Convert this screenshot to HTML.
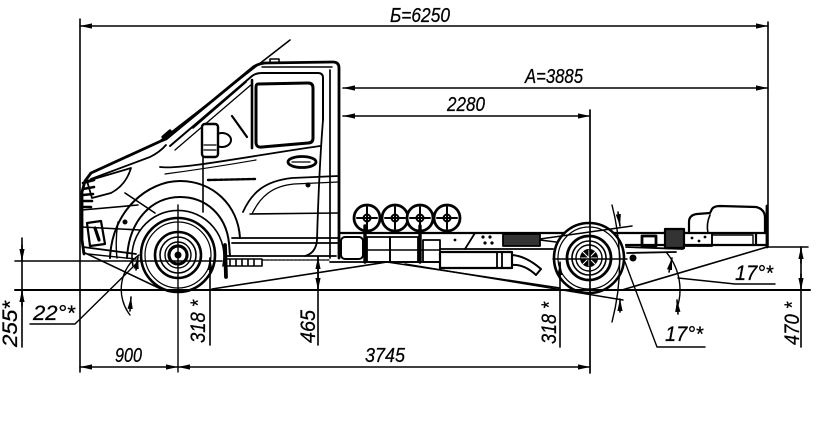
<!DOCTYPE html>
<html><head><meta charset="utf-8"><style>html,body{margin:0;padding:0;background:#fff;}svg{display:block;}</style></head>
<body>
<svg width="821" height="421" viewBox="0 0 821 421" xmlns="http://www.w3.org/2000/svg">
<defs>
<marker id="ar" viewBox="0 0 12 6" refX="12" refY="3" markerWidth="12" markerHeight="6" markerUnits="userSpaceOnUse" orient="auto-start-reverse"><path d="M0,0.4 L12,3 L0,5.6 z" fill="#000"/></marker>
</defs>
<rect width="821" height="421" fill="#fff"/>
<g stroke="#000" fill="none" stroke-linecap="round" stroke-linejoin="round">
<!-- cab -->
<path d="M84 254 L82 240 L82 192 L85 181 L91 173 L161 141 L166 139 L251 69 Q256 64 265 63 L333 62 Q339 62 339 68 L339 258" stroke-width="2.8"/>
<path d="M262 67 L332 67" stroke-width="1.4"/>
<path d="M330 70 L330 258" stroke-width="1.7"/>
<path d="M170 146 L252 76 Q256 73 262 73 L318 73 Q323 73 323 78 L323 120" stroke-width="2"/>
<path d="M175 150 L252 84" stroke-width="1.3"/>
<path d="M323 120 Q319 170 317 240 Q316 253 305 256" stroke-width="1.8"/>
<path d="M290 40 L160 141" stroke-width="1.6"/>
<path d="M258 84 L308 83 Q313 83 313 88 L313 138 Q313 143 308 143 L262 147 Q256 148 256 142 L256 88 Q256 84 258 84 Z" stroke-width="3"/>
<path d="M252 80 L252 148" stroke-width="2.6"/>
<path d="M246 82 L193 128" stroke-width="1.6"/>
<path d="M232 116 L247 137" stroke-width="2.2"/>
<ellipse cx="222" cy="140" rx="9" ry="7" stroke-width="2"/>
<rect x="202" y="124" width="16" height="33" rx="3" stroke-width="2.4" fill="#fff"/>
<path d="M204 145 L216 145 M204 150 L216 150" stroke-width="1.2"/>
<path d="M203 157 L203 212" stroke-width="1.6"/>
<path d="M160 167 C180 170 250 156 320 146" stroke-width="1.8"/>
<path d="M165 174 Q210 168 256 160" stroke-width="1.2"/>
<ellipse cx="302" cy="162" rx="14" ry="5.5" stroke-width="2.8"/>
<path d="M292 162 L310 162" stroke-width="1.3"/>
<path d="M208 180 L255 179" stroke-width="2.4" stroke-dasharray="4 1.5"/>
<path d="M243 212 C252 192 265 181 292 178 L338 176" stroke-width="1.8"/>
<path d="M252 214 C260 197 272 186 294 184 L338 182" stroke-width="1.3"/>
<path d="M250 214 L338 213" stroke-width="1.6"/>
<circle cx="308" cy="185" r="2" fill="#000"/>
<path d="M232 238 L338 238 M232 243 L338 243 M224 256 L336 256" stroke-width="1.8"/>
<path d="M262 260 L330 260" stroke-width="1.3" stroke-dasharray="3 1"/>
<!-- fender -->
<path d="M110 258 C112 210 148 181 180 181 C213 181 238 205 240 238" stroke-width="2"/>
<path d="M127 258 C129 220 152 197 180 197 C206 197 226 215 229 243 L230 256" stroke-width="2"/>
<path d="M133 266 A46 46 0 1 1 223 266" stroke-width="1.6"/>
<path d="M118 222 Q115 240 117 258" stroke-width="1.4"/>
<circle cx="125" cy="222" r="2" fill="#000"/>
<path d="M125 193 L155 213" stroke-width="1.6"/>
<!-- front -->
<path d="M91 179 L150 157 Q160 152 166 145" stroke-width="1.8"/>
<path d="M87 181 L131 168 Q126 185 111 193 L92 198 Z" stroke-width="1.8"/>
<path d="M83 183 L94 180 M83 189 L94 187 M83 195 L93 194 M83 201 L92 201 M83 207 L91 207" stroke-width="2.6"/>
<path d="M82 210 L138 205" stroke-width="1.6"/>
<path d="M82 227 L140 230" stroke-width="1.6"/>
<path d="M87 223 L101 221 L105 244 L90 246 Z" stroke-width="2.2"/>
<path d="M95 228 L99 240" stroke-width="3.2"/>
<path d="M83 247 L136 254" stroke-width="1.8"/>
<path d="M88 254 L136 259" stroke-width="1.4"/>
<path d="M163 137 L170 131" stroke-width="3.2"/>
<rect x="270" y="59" width="9" height="4" stroke-width="1.6"/>
<!-- steps / flap -->
<path d="M226 259 L262 259 L262 266 L226 266 Z M230 259 L230 266 M236 259 L236 266 M242 259 L242 266 M248 259 L248 266 M254 259 L254 266" stroke-width="1.6"/>
<path d="M225 245 L226 277" stroke-width="3.8"/>
<!-- frame -->
<path d="M339 233 L767 233" stroke-width="2.2"/>
<path d="M440 249 L553 249" stroke-width="1.8"/>
<path d="M626 245 L767 245" stroke-width="2.2"/>
<path d="M767 206 L767 247" stroke-width="2.8"/>
<!-- cylinders -->
<g stroke-width="2.8" fill="#fff">
<circle cx="367" cy="218" r="13"/><circle cx="395" cy="218" r="13"/><circle cx="420" cy="218" r="13"/><circle cx="447" cy="218" r="13"/>
</g>
<g stroke-width="2">
<circle cx="367" cy="218" r="3.5"/><circle cx="395" cy="218" r="3.5"/><circle cx="420" cy="218" r="3.5"/><circle cx="447" cy="218" r="3.5"/>
<path d="M367 207 L367 229 M357 218 L377 218 M395 207 L395 229 M385 218 L405 218 M420 207 L420 229 M410 218 L430 218 M447 207 L447 229 M437 218 L457 218"/>
</g>
<path d="M365 226 L365 262 M420 226 L420 262" stroke-width="3.4"/>
<rect x="341" y="237" width="22" height="22" rx="4" stroke-width="2"/>
<rect x="367" y="237" width="23" height="25" stroke-width="1.8"/>
<rect x="390" y="237" width="28" height="25" stroke-width="1.8"/>
<rect x="423" y="240" width="17" height="22" stroke-width="1.8"/>
<path d="M367 250 L440 250" stroke-width="1.4"/>
<path d="M330 262 L440 262" stroke-width="1.8"/>
<path d="M475 233 L465 249" stroke-width="1.8"/>
<g fill="#000" stroke="none"><circle cx="483" cy="237" r="1.6"/><circle cx="490" cy="237" r="1.6"/><circle cx="485" cy="243" r="1.6"/><circle cx="492" cy="243" r="1.6"/><circle cx="455" cy="240" r="1.4"/></g>
<rect x="503" y="234" width="37" height="12" fill="#333" stroke-width="1.8"/>
<rect x="440" y="252" width="72" height="16" stroke-width="2.2"/>
<path d="M497 252 L497 268 M502 252 L502 268" stroke-width="1.8"/>
<path d="M512 255 Q526 256 541 269 L536 275 Q524 264 512 265" stroke-width="2"/>
<path d="M540 240 L556 242" stroke-width="1.6"/>
<!-- rear parts -->
<rect x="642" y="236" width="14" height="10" stroke-width="2.8"/>
<rect x="665" y="229" width="19" height="19" fill="#333" stroke-width="2.2"/>
<rect x="684" y="233" width="28" height="13" stroke-width="1.8"/>
<g fill="#000" stroke="none"><circle cx="692" cy="238" r="1.4"/><circle cx="699" cy="241" r="1.4"/><circle cx="705" cy="237" r="1.4"/></g>
<rect x="712" y="235" width="41" height="10" stroke-width="1.4"/>
<path d="M756 233 L756 245" stroke-width="2.2"/>
<path d="M626 247 L683 249 M627 253 L676 252" stroke-width="1.8"/>
<circle cx="633" cy="258" r="3" fill="#000"/>
<path d="M689 233 L689 222 Q689 215 697 214 L710 213 L712 209 Q714 206 720 206 L756 207 Q765 209 765 218 L765 233" stroke-width="2.2"/>
<path d="M710 215 Q706 224 708 233" stroke-width="1.6"/>
<!-- wheels -->
<circle cx="178" cy="255" r="37" fill="#fff" stroke-width="2.6"/>
<circle cx="178" cy="255" r="33" stroke-width="1.2"/>
<circle cx="178" cy="255" r="23" stroke-width="2.6"/>
<circle cx="178" cy="255" r="18" stroke-width="1.6"/>
<circle cx="178" cy="255" r="13" stroke-width="1.4"/>
<circle cx="178" cy="255" r="9" stroke-width="3.2" stroke-dasharray="2.5 1.5"/>
<circle cx="178" cy="255" r="3" fill="#000"/>
<circle cx="589" cy="258" r="35" fill="#fff" stroke-width="2.6"/>
<circle cx="589" cy="258" r="31" stroke-width="1.2"/>
<circle cx="589" cy="258" r="22" stroke-width="2.8"/>
<circle cx="589" cy="258" r="17" stroke-width="1.6"/>
<circle cx="589" cy="258" r="13" stroke-width="1.4"/>
<circle cx="589" cy="258" r="8.5" fill="#000"/>
<path d="M581 258 L597 258 M589 250 L589 266 M583 252 L595 264 M595 252 L583 264" stroke="#fff" stroke-width="1"/>
<!-- center lines -->
<path d="M178 205 L178 372" stroke-width="1.4"/>
<path d="M590 110 L590 373" stroke-width="1.7"/>
<path d="M553 259 L627 259" stroke-width="1.4"/>
<!-- ground and reference lines -->
<path d="M15 290 L810 290" stroke-width="2"/>
<path d="M15 261 L222 261" stroke-width="1.6"/>
<path d="M83 252 L163 290" stroke-width="1.6"/>
<path d="M212 289 L387 262" stroke-width="1.6"/>
<path d="M387 262 L560 288" stroke-width="1.5"/>
<path d="M405 264 L623 300" stroke-width="1.5"/>
<path d="M540 239 L632 226" stroke-width="1.5"/>
<path d="M622 290 L767 247" stroke-width="1.6"/>
<path d="M767 247 L808 247" stroke-width="1.5"/>
<!-- arcs -->
<path d="M612 205 A233 233 0 0 1 612 322" stroke-width="1.4"/>
<path d="M666 252 A58 58 0 0 1 676 311" stroke-width="1.4"/>
<path d="M139 255 A42 42 0 0 0 130 315" stroke-width="1.4"/>
<!-- leaders -->
<path d="M30 324 L75 324 L138 262" stroke-width="1.4"/>
<path d="M678 278 L735 284 L775 284" stroke-width="1.4"/>
<path d="M625 262 L657 347 L705 347" stroke-width="1.4"/>
<!-- dimension lines -->
<g stroke-width="1.6">
<path d="M80 19 L80 372"/>
<path d="M768 22 L768 247"/>
<line x1="80" y1="26" x2="768" y2="26" marker-start="url(#ar)" marker-end="url(#ar)"/>
<line x1="343" y1="88" x2="768" y2="88" marker-start="url(#ar)" marker-end="url(#ar)"/>
<line x1="343" y1="116" x2="590" y2="116" marker-start="url(#ar)" marker-end="url(#ar)"/>
<line x1="80" y1="367" x2="178" y2="367" marker-start="url(#ar)" marker-end="url(#ar)"/>
<line x1="178" y1="367" x2="590" y2="367" marker-start="url(#ar)" marker-end="url(#ar)"/>
<!-- vertical dims -->
<path d="M22 238 L22 347"/>
<line x1="22" y1="245" x2="22" y2="261" marker-end="url(#ar)"/>
<line x1="22" y1="306" x2="22" y2="290" marker-end="url(#ar)"/>
<path d="M210 258 L210 345"/>
<line x1="210" y1="274" x2="210" y2="258" marker-end="url(#ar)"/>
<path d="M318 257 L318 345"/>
<line x1="318" y1="273" x2="318" y2="257" marker-end="url(#ar)"/>
<line x1="318" y1="274" x2="318" y2="290" marker-end="url(#ar)"/>
<path d="M560 262 L560 347"/>
<line x1="560" y1="279" x2="560" y2="263" marker-end="url(#ar)"/>
<path d="M801 247 L801 347"/>
<line x1="801" y1="263" x2="801" y2="247" marker-end="url(#ar)"/>
<line x1="801" y1="274" x2="801" y2="290" marker-end="url(#ar)"/>
<!-- arc arrows -->
<line x1="618" y1="212" x2="620" y2="226" marker-end="url(#ar)"/>
<line x1="620" y1="312" x2="620" y2="299" marker-end="url(#ar)"/>
<line x1="669" y1="272" x2="672" y2="258" marker-end="url(#ar)"/>
<line x1="678" y1="314" x2="677" y2="300" marker-end="url(#ar)"/>
<line x1="136" y1="270" x2="138" y2="257" marker-end="url(#ar)"/>
<line x1="130" y1="311" x2="131" y2="297" marker-end="url(#ar)"/>
</g>
</g>
<!-- text -->
<g font-family="'Liberation Sans', 'DejaVu Sans', sans-serif" font-style="italic" fill="#000" stroke="#000" stroke-width="0.25">
<text x="390" y="22" font-size="20" textLength="60" lengthAdjust="spacingAndGlyphs">Б=6250</text>
<text x="525" y="83" font-size="20" textLength="58" lengthAdjust="spacingAndGlyphs">А=3885</text>
<text x="447" y="111" font-size="20" textLength="38" lengthAdjust="spacingAndGlyphs">2280</text>
<text x="115" y="362" font-size="20" textLength="27" lengthAdjust="spacingAndGlyphs">900</text>
<text x="365" y="362" font-size="20" textLength="40" lengthAdjust="spacingAndGlyphs">3745</text>
<text x="33" y="320" font-size="21" textLength="42" lengthAdjust="spacingAndGlyphs">22°*</text>
<text x="735" y="280" font-size="21" textLength="38" lengthAdjust="spacingAndGlyphs">17°*</text>
<text x="665" y="341" font-size="21" textLength="38" lengthAdjust="spacingAndGlyphs">17°*</text>
<text transform="translate(17,347) rotate(-90)" font-size="21" textLength="46" lengthAdjust="spacingAndGlyphs">255*</text>
<text transform="translate(205,343) rotate(-90)" font-size="21" textLength="43" lengthAdjust="spacingAndGlyphs">318 *</text>
<text transform="translate(315,343) rotate(-90)" font-size="21" textLength="33" lengthAdjust="spacingAndGlyphs">465</text>
<text transform="translate(556,344) rotate(-90)" font-size="21" textLength="42" lengthAdjust="spacingAndGlyphs">318 *</text>
<text transform="translate(799,345) rotate(-90)" font-size="21" textLength="43" lengthAdjust="spacingAndGlyphs">470 *</text>
</g>
</svg>
</body></html>
